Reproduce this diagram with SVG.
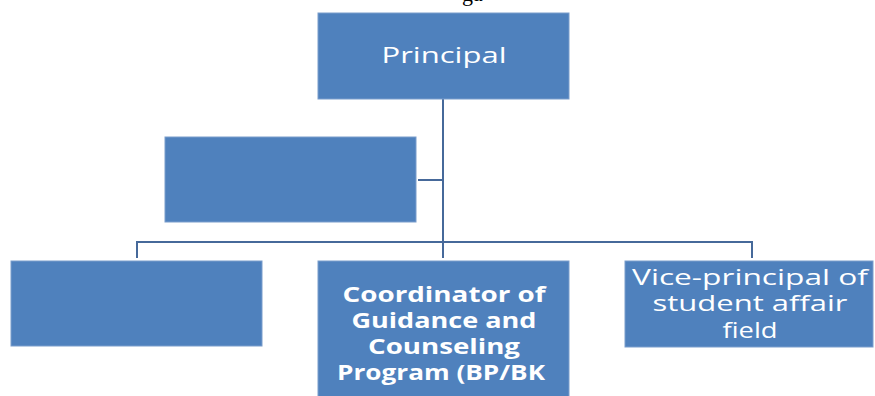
<svg xmlns="http://www.w3.org/2000/svg" width="875" height="396" viewBox="0 0 875 396">
<style>
.box{fill:#4F81BD;stroke:#7A9DCC;stroke-width:1}
.conn{fill:none;stroke:#46699A;stroke-width:2}
.t{font-family:"Open Sans","Liberation Sans",sans-serif;font-size:21px;fill:#FFFFFF;text-anchor:middle}
.b{font-weight:bold}
.cap{font-family:"Liberation Serif",serif;font-size:22px;fill:#000000}
</style>
<rect x="0" y="0" width="875" height="396" fill="#FFFFFF"/>
<text class="cap" x="462" y="1">ga</text>
<g id="connectors">
<path class="conn" d="M443,99 V258"/>
<path class="conn" d="M418,180 H443"/>
<path class="conn" d="M137,258 V242 H752 V258"/>
</g>
<g id="principal">
<rect class="box" x="318" y="13" width="251" height="86"/>
<text class="t" x="444" y="63" textLength="125" lengthAdjust="spacingAndGlyphs">Principal</text>
</g>
<g id="assistant">
<rect class="box" x="165" y="137" width="251" height="85"/>
</g>
<g id="left">
<rect class="box" x="11" y="261" width="251" height="85"/>
</g>
<g id="coordinator">
<rect class="box" x="318" y="261" width="251" height="140"/>
<text class="t b" x="444" y="302" textLength="203" lengthAdjust="spacingAndGlyphs">Coordinator of</text>
<text class="t b" x="444" y="328" textLength="185" lengthAdjust="spacingAndGlyphs">Guidance and</text>
<text class="t b" x="444" y="354" textLength="152" lengthAdjust="spacingAndGlyphs">Counseling</text>
<text class="t b" x="441" y="380" textLength="208" lengthAdjust="spacingAndGlyphs">Program (BP/BK</text>
</g>
<g id="vice">
<rect class="box" x="625" y="261" width="248" height="86"/>
<text class="t" x="750" y="285" textLength="236" lengthAdjust="spacingAndGlyphs">Vice-principal of</text>
<text class="t" x="750" y="311" textLength="195" lengthAdjust="spacingAndGlyphs">student affair</text>
<text class="t" x="750" y="338" textLength="55" lengthAdjust="spacingAndGlyphs">field</text>
</g>
</svg>
